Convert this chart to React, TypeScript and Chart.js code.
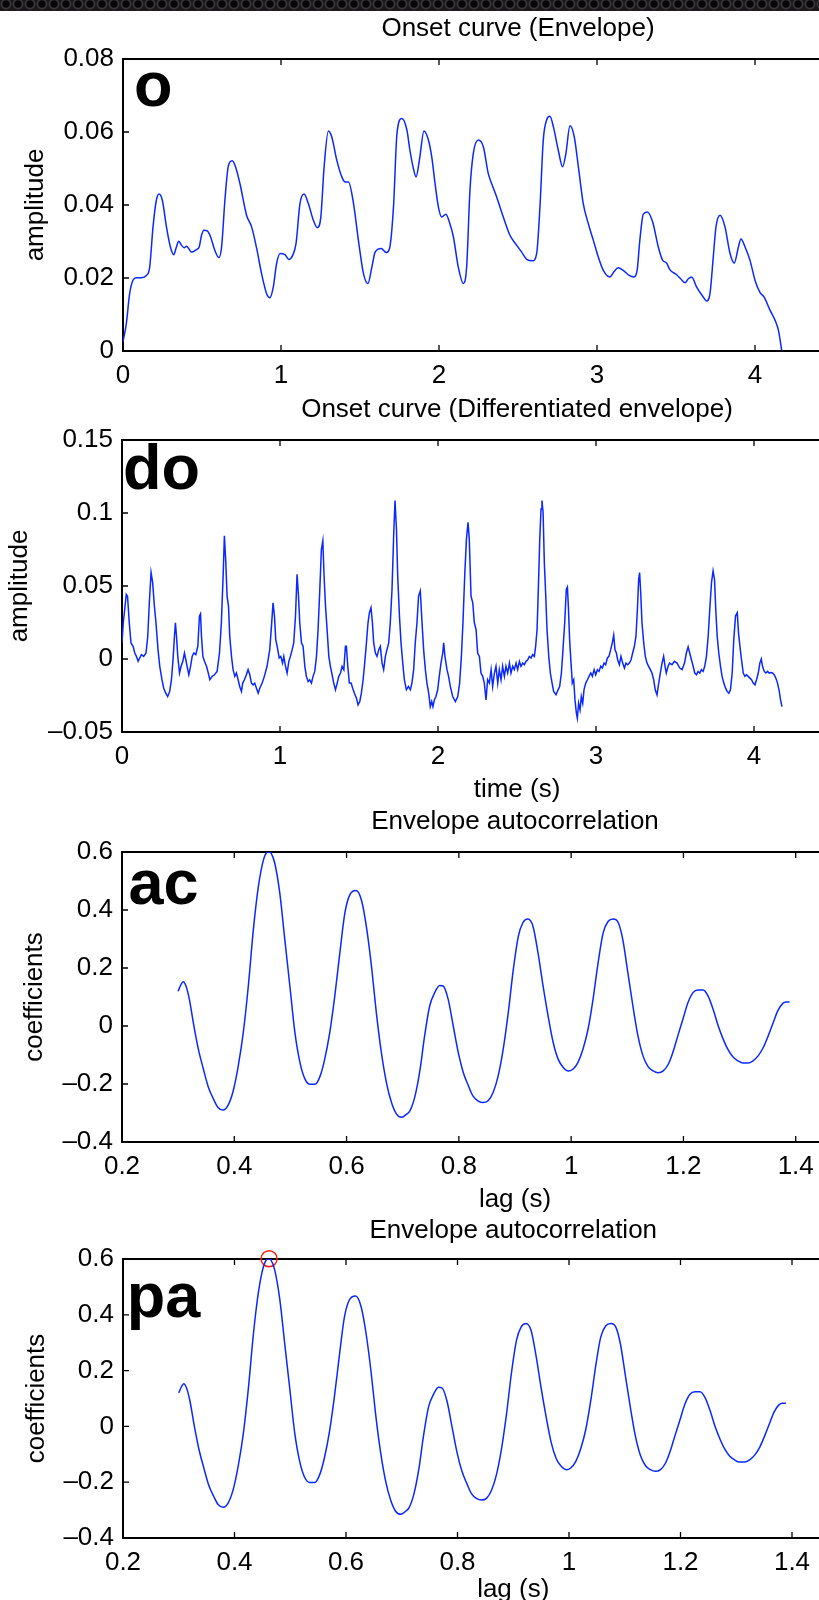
import React, { useEffect, useRef } from "react";
import { Chart, registerables } from "chart.js";

Chart.register(...registerables);

const FONT = "'Liberation Sans', Arial, Helvetica, sans-serif";
const LINE_BLUE = "rgb(10,40,255)";

// ---------- Panel "o": Onset curve (Envelope) ----------
const onsetTime = [
  0, 0.021, 0.042, 0.063, 0.085, 0.116, 0.148, 0.169, 0.19, 0.211, 0.228, 0.249, 0.275, 0.3, 0.321, 0.338,
  0.353, 0.37, 0.387, 0.402, 0.416, 0.433, 0.465, 0.482, 0.497, 0.512, 0.533, 0.554, 0.581, 0.607, 0.624,
  0.645, 0.666, 0.691, 0.712, 0.74, 0.782, 0.814, 0.846, 0.877, 0.909, 0.93, 0.951, 0.972, 0.994, 1.025,
  1.049, 1.074, 1.095, 1.12, 1.146, 1.173, 1.205, 1.23, 1.252, 1.273, 1.3, 1.321, 1.353, 1.385, 1.406,
  1.427, 1.459, 1.49, 1.522, 1.55, 1.575, 1.596, 1.634, 1.666, 1.687, 1.712, 1.734, 1.765, 1.797, 1.816,
  1.838, 1.855, 1.876, 1.905, 1.933, 1.954, 1.975, 1.996, 2.017, 2.044, 2.065, 2.091, 2.122, 2.154, 2.175,
  2.196, 2.217, 2.249, 2.281, 2.312, 2.333, 2.365, 2.407, 2.449, 2.491, 2.523, 2.555, 2.593, 2.618, 2.639,
  2.66, 2.681, 2.702, 2.724, 2.755, 2.782, 2.803, 2.829, 2.856, 2.882, 2.913, 2.945, 2.977, 3.008, 3.04,
  3.082, 3.107, 3.134, 3.166, 3.204, 3.233, 3.254, 3.271, 3.293, 3.318, 3.352, 3.388, 3.415, 3.44, 3.461,
  3.504, 3.529, 3.557, 3.578, 3.599, 3.631, 3.669, 3.694, 3.715, 3.736, 3.753, 3.779, 3.81, 3.842, 3.869,
  3.895, 3.911, 3.937, 3.968, 4.0, 4.032, 4.057, 4.095, 4.127, 4.148, 4.169,
];
const onsetAmp = [
  0.0025, 0.0075, 0.0157, 0.0194, 0.0201, 0.0201, 0.0207, 0.023, 0.034, 0.0413, 0.043, 0.0413, 0.034, 0.0285,
  0.0264, 0.0285, 0.0301, 0.029, 0.0283, 0.0287, 0.0281, 0.0271, 0.0278, 0.0285, 0.0317, 0.0331, 0.0329,
  0.0313, 0.0276, 0.0256, 0.0285, 0.0413, 0.0505, 0.0521, 0.0505, 0.0459, 0.0372, 0.034, 0.0281, 0.0212,
  0.0157, 0.0146, 0.0175, 0.0239, 0.0267, 0.0264, 0.0251, 0.0262, 0.0294, 0.0404, 0.043, 0.0404, 0.0358,
  0.0338, 0.0367, 0.0505, 0.0603, 0.0587, 0.0523, 0.0477, 0.0463, 0.0463, 0.0404, 0.0303, 0.0212, 0.0185,
  0.023, 0.0271, 0.0281, 0.027, 0.0281, 0.0395, 0.0596, 0.0637, 0.0605, 0.055, 0.05, 0.0477, 0.0523, 0.0603,
  0.0578, 0.0532, 0.0459, 0.0395, 0.0367, 0.0375, 0.0354, 0.0313, 0.023, 0.0185, 0.023, 0.0441, 0.0541,
  0.0578, 0.0559, 0.0486, 0.0459, 0.0422, 0.0367, 0.0317, 0.029, 0.0271, 0.0251, 0.0247, 0.0267, 0.0395,
  0.0578, 0.0633, 0.0643, 0.0614, 0.055, 0.0505, 0.0541, 0.0617, 0.0587, 0.0505, 0.0404, 0.0349, 0.0303,
  0.0258, 0.0221, 0.0203, 0.0217, 0.0228, 0.0221, 0.0207, 0.0203, 0.0221, 0.0303, 0.0375, 0.0381, 0.0354,
  0.0285, 0.0249, 0.0241, 0.0223, 0.0209, 0.0198, 0.0187, 0.0198, 0.0203, 0.0175, 0.015, 0.0137, 0.0157,
  0.0258, 0.034, 0.0372, 0.034, 0.0267, 0.0241, 0.0285, 0.0307, 0.0285, 0.0249, 0.0194, 0.016, 0.0148,
  0.0112, 0.0084, 0.0057, 0.0002,
];

// ---------- Panel "do": Onset curve (Differentiated envelope) ----------
const diffTime = [
  0, 0.008, 0.027, 0.035, 0.046, 0.057, 0.07, 0.081, 0.091, 0.102, 0.112, 0.123, 0.137, 0.152, 0.163, 0.173,
  0.184, 0.194, 0.205, 0.215, 0.228, 0.239, 0.253, 0.264, 0.277, 0.289, 0.302, 0.313, 0.323, 0.332, 0.338,
  0.345, 0.353, 0.364, 0.374, 0.385, 0.395, 0.404, 0.412, 0.423, 0.434, 0.444, 0.455, 0.467, 0.48, 0.49,
  0.497, 0.503, 0.512, 0.522, 0.535, 0.546, 0.556, 0.571, 0.585, 0.602, 0.617, 0.629, 0.64, 0.648, 0.657,
  0.665, 0.674, 0.682, 0.693, 0.703, 0.714, 0.724, 0.735, 0.745, 0.756, 0.764, 0.775, 0.787, 0.798, 0.809,
  0.819, 0.83, 0.84, 0.851, 0.862, 0.872, 0.887, 0.901, 0.918, 0.935, 0.946, 0.956, 0.965, 0.973, 0.984,
  0.995, 1.005, 1.016, 1.024, 1.035, 1.045, 1.056, 1.066, 1.077, 1.087, 1.098, 1.108, 1.117, 1.125, 1.136,
  1.146, 1.157, 1.167, 1.178, 1.188, 1.199, 1.209, 1.22, 1.231, 1.241, 1.252, 1.262, 1.271, 1.279, 1.288,
  1.298, 1.309, 1.319, 1.33, 1.34, 1.351, 1.362, 1.372, 1.383, 1.393, 1.404, 1.414, 1.42, 1.429, 1.439,
  1.45, 1.46, 1.471, 1.484, 1.494, 1.505, 1.515, 1.526, 1.536, 1.547, 1.557, 1.566, 1.576, 1.585, 1.593,
  1.604, 1.614, 1.625, 1.635, 1.646, 1.656, 1.667, 1.677, 1.688, 1.698, 1.709, 1.72, 1.728, 1.737, 1.745,
  1.756, 1.766, 1.777, 1.787, 1.8, 1.813, 1.825, 1.835, 1.846, 1.856, 1.867, 1.877, 1.888, 1.899, 1.909,
  1.92, 1.93, 1.941, 1.951, 1.96, 1.968, 1.977, 1.987, 1.998, 2.008, 2.019, 2.03, 2.036, 2.044, 2.057,
  2.067, 2.078, 2.093, 2.11, 2.125, 2.137, 2.148, 2.158, 2.169, 2.18, 2.19, 2.198, 2.209, 2.22, 2.23,
  2.241, 2.251, 2.262, 2.272, 2.283, 2.293, 2.304, 2.314, 2.325, 2.336, 2.346, 2.357, 2.367, 2.378, 2.388,
  2.399, 2.409, 2.42, 2.43, 2.441, 2.452, 2.462, 2.473, 2.483, 2.494, 2.504, 2.515, 2.525, 2.536, 2.546,
  2.557, 2.568, 2.578, 2.589, 2.599, 2.61, 2.618, 2.627, 2.635, 2.644, 2.652, 2.658, 2.665, 2.673, 2.682,
  2.69, 2.701, 2.711, 2.722, 2.732, 2.747, 2.76, 2.77, 2.781, 2.791, 2.802, 2.812, 2.819, 2.825, 2.833,
  2.842, 2.85, 2.859, 2.867, 2.876, 2.882, 2.89, 2.899, 2.907, 2.916, 2.924, 2.935, 2.946, 2.956, 2.967,
  2.977, 2.988, 2.998, 3.009, 3.019, 3.03, 3.04, 3.051, 3.061, 3.072, 3.082, 3.093, 3.103, 3.112, 3.12,
  3.129, 3.137, 3.148, 3.158, 3.169, 3.18, 3.19, 3.201, 3.211, 3.222, 3.232, 3.243, 3.253, 3.262, 3.27,
  3.276, 3.283, 3.291, 3.302, 3.312, 3.323, 3.333, 3.344, 3.354, 3.365, 3.375, 3.386, 3.397, 3.407, 3.418,
  3.428, 3.437, 3.445, 3.456, 3.466, 3.481, 3.496, 3.513, 3.53, 3.545, 3.56, 3.572, 3.583, 3.593, 3.604,
  3.615, 3.625, 3.636, 3.646, 3.657, 3.667, 3.678, 3.688, 3.699, 3.71, 3.72, 3.731, 3.741, 3.75, 3.758,
  3.767, 3.777, 3.788, 3.798, 3.809, 3.82, 3.83, 3.841, 3.851, 3.862, 3.872, 3.883, 3.894, 3.902, 3.911,
  3.921, 3.932, 3.942, 3.953, 3.963, 3.974, 3.984, 3.995, 4.006, 4.016, 4.027, 4.037, 4.046, 4.054, 4.065,
  4.075, 4.086, 4.096, 4.107, 4.117, 4.128, 4.138, 4.149, 4.16, 4.168, 4.177,
];
const diffAmp = [
  0.011, 0.0248, 0.0443, 0.043, 0.0248, 0.011, 0.0087, 0.0041, 0.0018, -0.0016, 0.0007, 0.003, 0.0018,
  0.0041, 0.0156, 0.0385, 0.0592, 0.0523, 0.0362, 0.0248, 0.0064, -0.005, -0.0142, -0.02, -0.0234, -0.0257,
  -0.0222, -0.0142, -0.0005, 0.0156, 0.0248, 0.0156, 0.0018, -0.0096, -0.005, -0.0016, 0.0041, -0.0005,
  -0.005, -0.0108, -0.005, 0.0018, 0.0041, 0.003, 0.0087, 0.0294, 0.031, 0.0156, 0.0018, -0.0016, -0.005,
  -0.0096, -0.0142, -0.0119, -0.0108, -0.0085, 0.0041, 0.0248, 0.0569, 0.0844, 0.066, 0.0431, 0.0362,
  0.0156, 0.0018, -0.0073, -0.0119, -0.0096, -0.0142, -0.0188, -0.0222, -0.0165, -0.0142, -0.0108, -0.0073,
  -0.0108, -0.0165, -0.0177, -0.0165, -0.02, -0.0234, -0.02, -0.0165, -0.0119, -0.005, 0.0064, 0.0225,
  0.0385, 0.0294, 0.0133, 0.0076, 0.0007, 0.0018, -0.0028, 0.0018, -0.005, -0.0096, -0.0016, 0.0018,
  0.0064, 0.011, 0.0294, 0.058, 0.0431, 0.0248, 0.011, 0.0087, -0.005, -0.0119, -0.0154, -0.0142, -0.0165,
  -0.0119, -0.0085, 0.0018, 0.0202, 0.0477, 0.0752, 0.081, 0.0569, 0.0362, 0.0202, 0.0018, -0.005, -0.0108,
  -0.0165, -0.0211, -0.0165, -0.0119, -0.0096, -0.005, -0.0073, 0.0087, 0.0087, -0.005, -0.0165, -0.0165,
  -0.02, -0.0234, -0.0268, -0.0314, -0.0291, -0.0234, -0.0142, -0.0028, 0.011, 0.0248, 0.0317, 0.0351,
  0.0248, 0.011, 0.0041, 0.0018, 0.0064, 0.0087, -0.0028, -0.0073, 0.0018, 0.0064, 0.011, 0.0248, 0.0477,
  0.0867, 0.1085, 0.089, 0.0569, 0.0294, 0.011, -0.0028, -0.0142, -0.0211, -0.0188, -0.0211, -0.0165,
  -0.0073, 0.011, 0.0248, 0.0431, 0.0466, 0.0248, 0.0064, -0.0073, -0.0165, -0.0234, -0.0326, -0.0291,
  -0.0326, -0.028, -0.0257, -0.0211, -0.0119, -0.0028, 0.0041, 0.011, 0.0018, -0.0073, -0.0119, -0.0188,
  -0.0257, -0.0291, -0.0257, -0.0165, 0.0018, 0.0248, 0.0569, 0.0821, 0.0936, 0.0821, 0.0431, 0.0385,
  0.0248, 0.0202, 0.0041, 0.0018, -0.0096, -0.0119, -0.0165, -0.028, -0.0142, -0.0165, -0.0073, -0.0188,
  -0.0096, -0.005, -0.0165, -0.0073, -0.0142, -0.005, -0.0119, -0.005, -0.0096, -0.0028, -0.0096, -0.005,
  -0.0073, -0.0028, -0.0073, -0.0016, -0.005, -0.0028, -0.0039, -0.0016, -0.0005, 0.0018, 0.0007, 0.003,
  0.0018, 0.0087, 0.0202, 0.0477, 0.0821, 0.1028, 0.1085, 0.1005, 0.066, 0.0431, 0.0202, 0.0018, -0.0096,
  -0.0165, -0.0222, -0.0245, -0.0211, -0.0188, -0.0096, 0.0064, 0.0248, 0.0477, 0.0493, 0.0362, 0.0133,
  -0.0028, -0.0165, -0.0142, -0.028, -0.0372, -0.0406, -0.0303, -0.0349, -0.0257, -0.0303, -0.0211,
  -0.0165, -0.0142, -0.0119, -0.0096, -0.0119, -0.0073, -0.0108, -0.0073, -0.0085, -0.005, -0.0062,
  -0.0028, -0.0039, 0.0007, 0.0018, 0.0064, 0.011, 0.0163, 0.0064, 0.0041, -0.0005, -0.0039, 0.0018,
  -0.0028, -0.0062, -0.0028, -0.0039, -0.0028, -0.0005, 0.0041, 0.0087, 0.0156, 0.0339, 0.0546, 0.0592,
  0.0454, 0.0248, 0.011, 0.0018, -0.0028, -0.005, -0.0073, -0.0096, -0.0142, -0.0211, -0.0245, -0.0165,
  -0.0096, -0.0028, 0.0018, -0.005, -0.0096, -0.005, -0.0028, -0.0039, -0.0016, -0.0028, -0.0062, -0.0073,
  -0.0028, 0.0041, 0.0083, 0.0041, -0.0005, -0.005, -0.0096, -0.0108, -0.0085, -0.0096, -0.0073, -0.0085,
  -0.005, 0.0018, 0.0156, 0.0339, 0.0523, 0.0603, 0.0546, 0.0339, 0.0156, 0.0041, -0.005, -0.0119, -0.0165,
  -0.02, -0.0222, -0.0234, -0.0211, -0.0096, 0.0133, 0.0294, 0.0317, 0.0179, 0.0087, -0.0005, -0.0096,
  -0.0119, -0.0108, -0.0119, -0.0131, -0.0142, -0.0165, -0.0177, -0.0142, -0.0096, -0.0028, 0.0, -0.005,
  -0.0085, -0.0096, -0.0085, -0.0096, -0.0092, -0.0096, -0.0108, -0.0131, -0.0165, -0.0222, -0.028, -0.0326,
];

// ---------- Panels "ac" and "pa": Envelope autocorrelation ----------
const acLag = [
  0.3, 0.305, 0.309, 0.314, 0.32, 0.327, 0.336, 0.345, 0.354, 0.363, 0.371, 0.38, 0.389, 0.398, 0.407,
  0.416, 0.425, 0.434, 0.443, 0.452, 0.459, 0.462, 0.465, 0.472, 0.481, 0.49, 0.499, 0.508, 0.517, 0.526,
  0.535, 0.544, 0.553, 0.561, 0.57, 0.579, 0.588, 0.597, 0.606, 0.617, 0.627, 0.636, 0.645, 0.653, 0.662,
  0.671, 0.68, 0.689, 0.698, 0.707, 0.713, 0.722, 0.731, 0.739, 0.748, 0.757, 0.766, 0.772, 0.781, 0.79,
  0.799, 0.808, 0.817, 0.825, 0.834, 0.843, 0.852, 0.861, 0.87, 0.879, 0.888, 0.897, 0.906, 0.914, 0.923,
  0.932, 0.941, 0.95, 0.959, 0.968, 0.977, 0.986, 0.995, 1.003, 1.012, 1.021, 1.03, 1.039, 1.048, 1.057,
  1.066, 1.075, 1.084, 1.092, 1.101, 1.11, 1.119, 1.128, 1.137, 1.146, 1.155, 1.164, 1.173, 1.181, 1.19,
  1.199, 1.208, 1.217, 1.226, 1.235, 1.244, 1.253, 1.262, 1.271, 1.279, 1.288, 1.297, 1.306, 1.315, 1.324,
  1.333, 1.342, 1.351, 1.36, 1.368, 1.377, 1.383, 1.389,
];
const acCoef = [
  0.12, 0.143, 0.153, 0.138, 0.092, 0.012, -0.08, -0.149, -0.212, -0.252, -0.281, -0.29, -0.273, -0.224,
  -0.138, -0.023, 0.138, 0.333, 0.482, 0.573, 0.6, 0.601, 0.598, 0.562, 0.459, 0.298, 0.138, -0.023, -0.126,
  -0.183, -0.201, -0.201, -0.172, -0.115, -0.023, 0.103, 0.252, 0.39, 0.453, 0.467, 0.43, 0.333, 0.195,
  0.046, -0.092, -0.195, -0.264, -0.304, -0.315, -0.304, -0.292, -0.241, -0.149, -0.034, 0.069, 0.115, 0.14,
  0.138, 0.092, 0.0, -0.092, -0.161, -0.206, -0.241, -0.258, -0.264, -0.258, -0.229, -0.172, -0.08, 0.046,
  0.195, 0.31, 0.356, 0.369, 0.344, 0.252, 0.138, 0.034, -0.057, -0.115, -0.143, -0.155, -0.149, -0.126,
  -0.08, -0.012, 0.092, 0.218, 0.321, 0.361, 0.369, 0.356, 0.298, 0.184, 0.069, -0.034, -0.103, -0.14,
  -0.155, -0.161, -0.155, -0.132, -0.092, -0.034, 0.023, 0.08, 0.115, 0.124, 0.124, 0.103, 0.057, 0.0,
  -0.046, -0.08, -0.106, -0.12, -0.128, -0.128, -0.12, -0.103, -0.075, -0.034, 0.012, 0.052, 0.078, 0.083,
  0.083,
];
const peakLag = [0.462];
const peakCoef = [0.601];

// ---------- Axis ticks ----------
const timeTicks = [0, 1, 2, 3, 4, 5];
const timeTickLabels = ["0", "1", "2", "3", "4", "5"];
const lagTicks = [0.2, 0.4, 0.6, 0.8, 1.0, 1.2, 1.4, 1.6];
const lagTickLabels = ["0.2", "0.4", "0.6", "0.8", "1", "1.2", "1.4", "1.6"];
const onsetYTicks = [0, 0.02, 0.04, 0.06, 0.08];
const onsetYLabels = ["0", "0.02", "0.04", "0.06", "0.08"];
const diffYTicks = [-0.05, 0, 0.05, 0.1, 0.15];
const diffYLabels = ["\u20130.05", "0", "0.05", "0.1", "0.15"];
const coefYTicks = [-0.4, -0.2, 0, 0.2, 0.4, 0.6];
const coefYLabels = ["\u20130.4", "\u20130.2", "0", "0.2", "0.4", "0.6"];

type PanelDef = {
  top: number;
  height: number;
  title: string;
  tag: string;
  tagDx: number;
  tagDy: number;
  xs: number[];
  ys: number[];
  smooth: boolean;
  xMin: number;
  xMax: number;
  yMin: number;
  yMax: number;
  xTicks: number[];
  xLabels: string[];
  yTicks: number[];
  yLabels: string[];
  xTitle: string;
  yTitle: string;
  leftW: number;
  topH: number;
  bottomH: number;
  padRight: number;
  titlePad: number;
  xTickPad: number;
  xTitlePad: number;
  yTitlePad: number;
  peakX?: number[];
  peakY?: number[];
};

const CANVAS_W = 940;

const panels: PanelDef[] = [
  {
    top: 0, height: 390, title: "Onset curve (Envelope)", tag: "o", tagDx: 11, tagDy: 47,
    xs: onsetTime, ys: onsetAmp, smooth: true, xMin: 0, xMax: 5, yMin: 0, yMax: 0.08,
    xTicks: timeTicks, xLabels: timeTickLabels, yTicks: onsetYTicks, yLabels: onsetYLabels,
    xTitle: "", yTitle: "amplitude",
    leftW: 123, topH: 59, bottomH: 39, padRight: CANVAS_W - 913,
    titlePad: 13, xTickPad: 9.4, xTitlePad: 0, yTitlePad: 20.4,
  },
  {
    top: 390, height: 430, title: "Onset curve (Differentiated envelope)", tag: "do", tagDx: 1, tagDy: 49,
    xs: diffTime, ys: diffAmp, smooth: false, xMin: 0, xMax: 5, yMin: -0.05, yMax: 0.15,
    xTicks: timeTicks, xLabels: timeTickLabels, yTicks: diffYTicks, yLabels: diffYLabels,
    xTitle: "time (s)", yTitle: "amplitude",
    leftW: 122, topH: 50, bottomH: 88, padRight: CANVAS_W - 912,
    titlePad: 4.4, xTickPad: 9.4, xTitlePad: 14.4, yTitlePad: 4.4,
  },
  {
    top: 800, height: 420, title: "Envelope autocorrelation", tag: "ac", tagDx: 6.5, tagDy: 52,
    xs: acLag, ys: acCoef, smooth: true, xMin: 0.2, xMax: 1.6, yMin: -0.4, yMax: 0.6,
    xTicks: lagTicks, xLabels: lagTickLabels, yTicks: coefYTicks, yLabels: coefYLabels,
    xTitle: "lag (s)", yTitle: "coefficients",
    leftW: 122, topH: 52, bottomH: 78, padRight: CANVAS_W - 908,
    titlePad: 6.4, xTickPad: 9.4, xTitlePad: 4.4, yTitlePad: 19.4,
  },
  {
    top: 1210, height: 400, title: "Envelope autocorrelation", tag: "pa", tagDx: 3.7, tagDy: 58,
    xs: acLag, ys: acCoef, smooth: true, xMin: 0.2, xMax: 1.6, yMin: -0.4, yMax: 0.6,
    xTicks: lagTicks, xLabels: lagTickLabels, yTicks: coefYTicks, yLabels: coefYLabels,
    xTitle: "lag (s)", yTitle: "coefficients",
    leftW: 123, topH: 49, bottomH: 72, padRight: CANVAS_W - 903.5,
    titlePad: 5.4, xTickPad: 9.4, xTitlePad: 4.4, yTitlePad: 21.4,
    peakX: peakLag, peakY: peakCoef,
  },
];

const labelFor = (ticks: number[], labels: string[], v: number) => {
  const i = ticks.findIndex((t) => Math.abs(t - v) < 1e-9);
  return i >= 0 ? labels[i] : "";
};

const framePlugin = {
  id: "matlabFrame",
  beforeDatasetsDraw(chart: any) {
    const { ctx, chartArea: a, scales } = chart;
    const xs = scales.x;
    const ys = scales.y;
    ctx.save();
    ctx.strokeStyle = "#000";
    ctx.lineWidth = 1.3;
    ctx.beginPath();
    for (const t of xs.ticks) {
      const px = xs.getPixelForValue(t.value);
      ctx.moveTo(px, a.bottom);
      ctx.lineTo(px, a.bottom - 6);
      ctx.moveTo(px, a.top);
      ctx.lineTo(px, a.top + 6);
    }
    for (const t of ys.ticks) {
      const py = ys.getPixelForValue(t.value);
      ctx.moveTo(a.left, py);
      ctx.lineTo(a.left + 6, py);
      ctx.moveTo(a.right, py);
      ctx.lineTo(a.right - 6, py);
    }
    ctx.stroke();
    ctx.lineWidth = 2;
    ctx.strokeRect(a.left, a.top, a.right - a.left, a.bottom - a.top);
    ctx.restore();
  },
  afterDatasetsDraw(chart: any, _args: any, opts: any) {
    const { ctx, chartArea: a } = chart;
    ctx.save();
    ctx.fillStyle = "#000";
    ctx.font = `bold 63px ${FONT}`;
    ctx.textAlign = "left";
    ctx.textBaseline = "alphabetic";
    ctx.fillText(opts.tag, a.left + opts.dx, a.top + opts.dy);
    ctx.restore();
  },
};

function Panel({ def }: { def: PanelDef }) {
  const ref = useRef<HTMLCanvasElement | null>(null);
  useEffect(() => {
    if (!ref.current) return;
    const font = { family: FONT, size: 26 };
    const datasets: any[] = [
      {
        data: def.xs.map((x, i) => ({ x, y: def.ys[i] })),
        showLine: true,
        borderColor: LINE_BLUE,
        borderWidth: 1.5,
        pointRadius: 0,
        cubicInterpolationMode: def.smooth ? "monotone" : "default",
        tension: 0,
      },
    ];
    if (def.peakX && def.peakY) {
      datasets.push({
        data: def.peakX.map((x, i) => ({ x, y: def.peakY![i] })),
        showLine: false,
        pointRadius: 8,
        pointBorderColor: "rgb(255,30,10)",
        pointBackgroundColor: "rgba(0,0,0,0)",
        pointBorderWidth: 1.5,
        clip: false,
      });
    }
    const chart = new Chart(ref.current, {
      type: "scatter",
      data: { datasets },
      plugins: [framePlugin],
      options: {
        animation: false,
        responsive: false,
        layout: { padding: { left: 0, top: 0, bottom: 0, right: def.padRight } },
        plugins: {
          legend: { display: false },
          tooltip: { enabled: false },
          matlabFrame: { tag: def.tag, dx: def.tagDx, dy: def.tagDy },
        } as any,
        scales: {
          x: {
            type: "linear",
            position: "bottom",
            min: def.xMin,
            max: def.xMax,
            afterBuildTicks: (s: any) => {
              s.ticks = def.xTicks.map((v) => ({ value: v }));
            },
            afterFit: (s: any) => {
              s.height = def.bottomH;
            },
            grid: { display: false, drawTicks: false },
            border: { display: false },
            ticks: {
              color: "#000",
              font,
              padding: def.xTickPad,
              maxRotation: 0,
              autoSkip: false,
              callback: (v: any) => labelFor(def.xTicks, def.xLabels, Number(v)),
            },
            title: {
              display: def.xTitle !== "",
              text: def.xTitle,
              color: "#000",
              font,
              padding: { top: 0, bottom: def.xTitlePad },
            },
          },
          x2: {
            type: "linear",
            position: "top",
            min: def.xMin,
            max: def.xMax,
            afterFit: (s: any) => {
              s.height = def.topH;
            },
            grid: { display: false, drawTicks: false },
            border: { display: false },
            ticks: { display: false },
            title: {
              display: true,
              text: def.title,
              color: "#000",
              font,
              padding: { top: def.titlePad, bottom: 0 },
            },
          },
          y: {
            type: "linear",
            position: "left",
            min: def.yMin,
            max: def.yMax,
            afterBuildTicks: (s: any) => {
              s.ticks = def.yTicks.map((v) => ({ value: v }));
            },
            afterFit: (s: any) => {
              s.width = def.leftW;
            },
            grid: { display: false, drawTicks: false },
            border: { display: false },
            ticks: {
              color: "#000",
              font,
              padding: 9,
              autoSkip: false,
              callback: (v: any) => labelFor(def.yTicks, def.yLabels, Number(v)),
            },
            title: {
              display: true,
              text: def.yTitle,
              color: "#000",
              font,
              padding: { top: def.yTitlePad, bottom: 0 },
            },
          },
        } as any,
      },
    });
    return () => chart.destroy();
  }, [def]);
  return (
    <canvas
      ref={ref}
      width={CANVAS_W}
      height={def.height}
      style={{ position: "absolute", left: 0, top: def.top, width: CANVAS_W, height: def.height }}
    />
  );
}

export default function App() {
  return (
    <div
      style={{
        position: "absolute",
        left: 0,
        top: 0,
        width: 819,
        height: 1600,
        overflow: "hidden",
        background: "#fff",
      }}
    >
      {panels.map((p, i) => (
        <Panel key={i} def={p} />
      ))}
      <div
        style={{
          position: "absolute",
          left: 0,
          top: 0,
          width: 819,
          height: 11,
          backgroundColor: "#151314",
          backgroundImage:
            "radial-gradient(circle at 50% 50%, #070506 0px, #070506 3px, #3c3a40 4.5px, #1a1819 6px)",
          backgroundSize: "12px 12px",
          backgroundPosition: "0 -2px",
        }}
      />
    </div>
  );
}
